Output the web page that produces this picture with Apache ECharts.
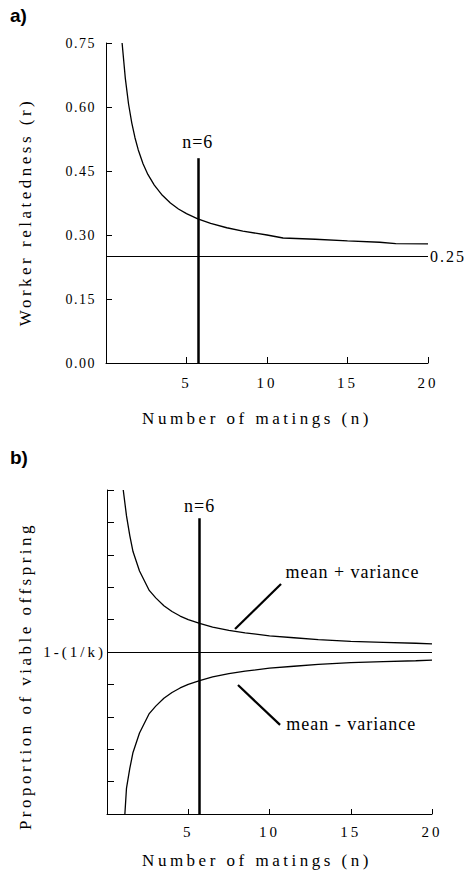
<!DOCTYPE html>
<html>
<head>
<meta charset="utf-8">
<script src="https://cdn.jsdelivr.net/npm/echarts@6/dist/echarts.min.js"></script>
<style>
  html, body { margin: 0; padding: 0; background: #fff; }
  #chart { width: 467px; height: 872px; }
  /* the printed figure uses wide letter spacing */
  #chart text[style*="14px"] { letter-spacing: 1.5px; }
  #chart text[style*="15px"] { letter-spacing: 3px; }
  #chart text[style*="16px"] { letter-spacing: 2px; }
  #chart text[style*="17px"] { letter-spacing: 3.5px; }
  #chart text[style*="18px"] { letter-spacing: 1px; }
</style>
</head>
<body>
<div id="chart"></div>
<script>
// panel a: worker relatedness against number of matings
const matingsA = [1, 1.2, 1.4, 1.6, 1.8, 2, 2.3, 2.6, 3, 3.5, 4, 4.5, 5, 5.7, 6.5, 7.5, 8.5, 10, 11, 13, 15, 17, 18, 20];
const relatedness = [0.75, 0.667, 0.607, 0.563, 0.528, 0.50, 0.467, 0.442, 0.417, 0.393, 0.375, 0.361, 0.35, 0.338, 0.327, 0.317, 0.309, 0.30, 0.293, 0.29, 0.286, 0.283, 0.280, 0.279];
const baselineA = 0.25;
const yTickLabelsA = ['0.00', '0.15', '0.30', '0.45', '0.60', '0.75'];

// panel b: mean +/- variance around 1-(1/k), in tick units
const matingsUpper = [1, 1.2, 1.4, 1.6, 1.8, 2, 2.3, 2.6, 3, 3.5, 4, 4.5, 5, 5.7, 6.5, 7.5, 8.5, 10, 11.5, 13, 15, 17, 19, 20];
const upperDev = [5, 4.2, 3.6, 3.1, 2.8, 2.5, 2.2, 1.9, 1.67, 1.43, 1.25, 1.11, 1.0, 0.88, 0.77, 0.67, 0.59, 0.5, 0.44, 0.38, 0.33, 0.30, 0.27, 0.25];
const matingsLower = [1.1, 1.2, 1.4, 1.6, 1.8, 2, 2.3, 2.6, 3, 3.5, 4, 4.5, 5, 5.7, 6.5, 7.5, 8.5, 10, 11.5, 13, 15, 17, 19, 20];
const lowerDev = [-5, -4.2, -3.6, -3.1, -2.8, -2.5, -2.2, -1.9, -1.67, -1.43, -1.25, -1.11, -1.0, -0.88, -0.77, -0.67, -0.59, -0.5, -0.44, -0.38, -0.33, -0.30, -0.27, -0.25];
const yTickLabelsB = ['', '', '', '', '', '1-(1/k)', '', '', '', '', ''];

const xTickLabels = ['', '5', '10', '15', '20'];
const nMark = 5.7;        // where the n=6 line is drawn
const nTopA = 0.48;
const nTopB = 4.13;

const serif = 'Liberation Serif';
const black = '#000';

function pairs(xs, ys) {
  return xs.map((x, i) => [x, ys[i]]);
}

const chart = echarts.init(document.getElementById('chart'), null, { renderer: 'svg' });

const xAxisBase = {
  type: 'value', min: 0, max: 20, interval: 5,
  splitLine: { show: false },
  axisLine: { onZero: false, lineStyle: { color: black, width: 1 } },
  axisTick: { inside: true, length: 6, lineStyle: { color: black } },
  name: 'Number of matings (n)',
  nameLocation: 'middle',
  nameTextStyle: { fontFamily: serif, fontSize: 17, color: black }
};

const option = {
  animation: false,
  backgroundColor: '#fff',
  title: [
    { text: 'a)', left: 10, top: 6, padding: 0,
      textStyle: { fontFamily: 'Liberation Sans', fontSize: 19, fontWeight: 'bold', color: black } },
    { text: 'b)', left: 10, top: 448, padding: 0,
      textStyle: { fontFamily: 'Liberation Sans', fontSize: 19, fontWeight: 'bold', color: black } }
  ],
  grid: [
    { left: 106, top: 43, width: 322, height: 320 },
    { left: 107, top: 490, width: 325, height: 324 }
  ],
  xAxis: [
    Object.assign({}, xAxisBase, {
      gridIndex: 0,
      nameGap: 47,
      nameTextStyle: Object.assign({}, xAxisBase.nameTextStyle, { padding: [0, 20, 0, 0] }),
      axisLabel: { margin: 12, fontFamily: serif, fontSize: 15, color: black,
        formatter: (v) => xTickLabels[Math.round(v / 5)] }
    }),
    Object.assign({}, xAxisBase, {
      gridIndex: 1,
      nameGap: 38,
      axisTick: { inside: true, length: 5, lineStyle: { color: black } },
      nameTextStyle: Object.assign({}, xAxisBase.nameTextStyle, { padding: [0, 25, 0, 0] }),
      axisLabel: { margin: 10, fontFamily: serif, fontSize: 15, color: black,
        formatter: (v) => xTickLabels[Math.round(v / 5)] }
    })
  ],
  yAxis: [
    {
      gridIndex: 0, type: 'value', min: 0, max: 0.75, interval: 0.15,
      splitLine: { show: false },
      axisLine: { show: true, lineStyle: { color: black, width: 1 } },
      axisTick: { show: true, inside: true, length: 6, lineStyle: { color: black } },
      axisLabel: { margin: 10, fontFamily: serif, fontSize: 14, color: black,
        formatter: (v) => yTickLabelsA[Math.round(v / 0.15)] },
      name: 'Worker relatedness (r)',
      nameLocation: 'middle',
      nameGap: 72,
      nameTextStyle: { fontFamily: serif, fontSize: 17, color: black, padding: [0, 18, 0, 0] }
    },
    {
      gridIndex: 1, type: 'value', min: -5, max: 5, interval: 1,
      splitLine: { show: false },
      axisLine: { show: true, lineStyle: { color: black, width: 1 } },
      axisTick: { show: true, inside: true, length: 7, lineStyle: { color: black } },
      axisLabel: { margin: 1, fontFamily: serif, fontSize: 15, color: black,
        formatter: (v) => yTickLabelsB[Math.round(v + 5)] },
      name: 'Proportion of viable offspring',
      nameLocation: 'middle',
      nameGap: 73,
      nameTextStyle: { fontFamily: serif, fontSize: 17, color: black, padding: [0, 48, 0, 0] }
    }
  ],
  series: [
    {
      type: 'line', xAxisIndex: 0, yAxisIndex: 0,
      data: pairs(matingsA, relatedness),
      showSymbol: false,
      lineStyle: { color: black, width: 1.3 },
      markLine: {
        silent: true, symbol: 'none',
        lineStyle: { type: 'solid', color: black, width: 1 },
        data: [
          { yAxis: baselineA,
            label: { show: true, position: 'end', distance: 2, formatter: '0.25',
              fontFamily: serif, fontSize: 16, color: black } },
          [
            { coord: [nMark, 0], lineStyle: { width: 2.5 },
              label: { show: true, position: 'end', distance: 7, formatter: 'n=6',
                fontFamily: serif, fontSize: 18, color: black } },
            { coord: [nMark, nTopA] }
          ]
        ]
      }
    },
    {
      type: 'line', xAxisIndex: 1, yAxisIndex: 1,
      data: pairs(matingsUpper, upperDev),
      showSymbol: false,
      lineStyle: { color: black, width: 1.3 },
      markLine: {
        silent: true, symbol: 'none',
        lineStyle: { type: 'solid', color: black, width: 1 },
        label: { show: false },
        data: [
          { yAxis: 0 },
          [
            { coord: [nMark, -5], lineStyle: { width: 2.5 },
              label: { show: true, position: 'end', distance: 3, formatter: 'n=6',
                fontFamily: serif, fontSize: 18, color: black } },
            { coord: [nMark, nTopB] }
          ],
          [ { coord: [10.71, 2.10], lineStyle: { width: 2.2 } }, { coord: [7.88, 0.71] } ],
          [ { coord: [8.06, -1.02], lineStyle: { width: 2.2 } }, { coord: [10.65, -2.25] } ]
        ]
      },
      markPoint: {
        silent: true, symbol: 'circle', symbolSize: 1,
        itemStyle: { color: 'rgba(0,0,0,0)' },
        label: { show: true, position: 'right', distance: 0, formatter: '{b}',
          fontFamily: serif, fontSize: 18, color: black },
        data: [
          { name: 'mean + variance', coord: [10.95, 2.47] },
          { name: 'mean - variance', coord: [11.0, -2.22] }
        ]
      }
    },
    {
      type: 'line', xAxisIndex: 1, yAxisIndex: 1,
      data: pairs(matingsLower, lowerDev),
      showSymbol: false,
      lineStyle: { color: black, width: 1.3 }
    }
  ]
};

chart.setOption(option);
</script>
</body>
</html>
